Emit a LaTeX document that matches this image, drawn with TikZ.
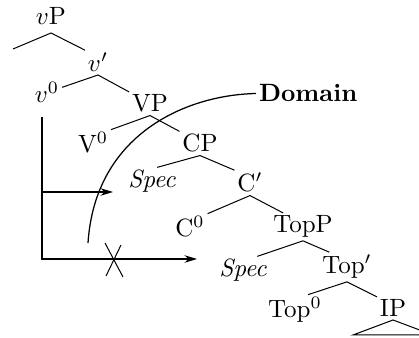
\documentclass[tikz,border=0pt]{standalone}
\usetikzlibrary{arrows.meta,calc}
\begin{document}
\begin{tikzpicture}[
  x=0.4pt, y=-0.4pt, >={Stealth[length=5pt,width=3pt]},
  cat/.style={inner sep=1pt, anchor=base},
  spc/.style={cat, font=\itshape},
  br/.style={line width=0.4pt},
  mv/.style={->, line width=0.45pt},
]
\useasboundingbox (0,0) rectangle (419,338);
\clip (0,0) rectangle (419,338);
% the tree, top down
\node[cat] (vP) at (51,25) {$v$P};
\node[cat] (vbar) at (98,72) {$v'$};
\node[cat] (vzero) at (47,103) {$v^0$};
\node[cat] (VP) at (150,112) {VP};
\node[cat] (Vzero) at (93,153) {V$^0$};
\node[cat] (CP) at (200,152) {CP};
\node[spc] (specC) at (152,188) {Spec};
\node[cat] (Cbar) at (250,192) {C$'$};
\node[cat] (Czero) at (190,237) {C$^0$};
\node[cat] (TopP) at (303,233) {TopP};
\node[spc] (specTop) at (243,277) {Spec};
\node[cat] (Topbar) at (347,274) {Top$'$};
\node[cat] (Topzero) at (295,318) {Top$^0$};
\node[cat] (IP) at (393,317) {IP};
\coordinate (stub) at (13,49);
\coordinate (ipl) at (353,335);
\coordinate (ipr) at (433,335);
% branches
\draw[br] (stub) -- ([yshift=-2pt]vP.south) -- (vbar.north west);
\draw[br] (vzero.20) -- (vbar.south) -- (VP.north west);
\draw[br] (Vzero.north east) -- (VP.south) -- (CP.north west);
\draw[br] (specC.70) -- (CP.south) -- (Cbar.north west);
\draw[br] (Czero.north east) -- (Cbar.south) -- (TopP.145);
\draw[br] (specTop.45) -- (TopP.south) -- (Topbar.140);
\draw[br] (Topzero.50) -- (Topbar.south) -- (IP.north west);
\draw[br] (IP.south) -- (ipl) -- (ipr) -- cycle;
% domain boundary
\node[font=\bfseries, inner sep=1pt, anchor=base west] (dom) at (256,102) {Domain};
\coordinate (dend) at (88,243);
\draw[line width=0.5pt] (dom.west) .. controls (185,95) and (95,135) .. (dend);
% movement of v0
\coordinate (trace) at (42,117);
\coordinate (landC) at (113,192);
\coordinate (landTop) at (197,259);
\draw[mv] (trace) |- (landC);
\draw[mv] (trace) |- (landTop);
\coordinate (blk) at (113,260);
\draw[br] (blk) ++(-8,-17) -- ++(18,34) (blk) ++(8,-15) -- ++(-15,31);
\end{tikzpicture}
\end{document}
